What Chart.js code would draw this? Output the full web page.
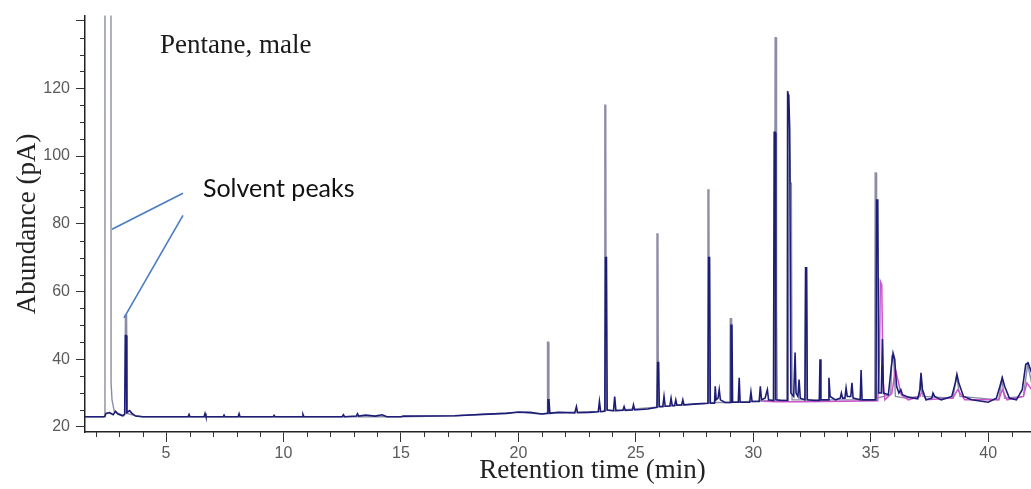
<!DOCTYPE html>
<html>
<head>
<meta charset="utf-8">
<script src="https://cdn.jsdelivr.net/npm/chart.js@4.4.1/dist/chart.umd.min.js"></script>
<style>
  html, body { margin: 0; padding: 0; background: #ffffff; overflow: hidden; }
  #wrap { position: relative; width: 1100px; height: 489px; }
</style>
</head>
<body>
<div id="wrap"><canvas id="c"></canvas></div>
<script>
// ---- data (retention time in min, abundance in pA) ----
const xTicksMajor = [5, 10, 15, 20, 25, 30, 35, 40];
const yTicksMajor = [20, 40, 60, 80, 100, 120];

const navyTrace = [
  [1.55,23],[2.35,23],[2.40,23.2],[2.44,24],[2.6,24.2],[2.75,23.6],[2.85,24.6],[2.95,23.8],[3.15,23.3],
  [3.24,23.8],[3.27,47],[3.30,47],[3.33,24.2],[3.45,24.8],[3.55,24],[3.7,23.2],[4.0,23],
  [5.94,23],[5.98,23.7],[6.02,23],[6.62,23],[6.66,24],[6.7,23],[7.43,23],[7.47,23.5],[7.51,23],
  [8.07,23],[8.11,23.9],[8.15,23],[9.56,23],[9.6,23.4],[9.64,23],[10.79,23],[10.83,23.7],[10.87,23],
  [12.5,23],[12.55,23.6],[12.6,23],[13.1,23.2],[13.15,23.9],[13.2,23.2],[13.5,23.5],[13.9,23.2],
  [14.2,23.6],[14.4,23],[15.0,23],[15.1,23.2],[17.3,23.3],[18.5,23.7],[19.5,24],[20.0,24.4],[20.5,24.3],
  [21.0,23.8],[21.22,24],[21.26,28],[21.3,28],[21.34,24],[21.7,24.3],[22.4,24.1],[22.47,26],[22.52,24.2],
  [23.0,24.3],[23.4,24.5],[23.45,27.5],[23.5,24.5],[23.68,24.6],[23.71,70],[23.75,70],[23.78,25],
  [24.05,24.8],[24.1,29],[24.15,24.8],[24.45,24.9],[24.5,26],[24.55,24.9],[24.85,25],[24.9,26.5],[24.95,25],
  [25.5,25.3],[25.9,25.8],[25.93,39],[25.97,39],[26.0,26],[26.15,26],[26.2,29],[26.25,26.1],[26.45,26.2],
  [26.5,28.5],[26.55,26.3],[26.65,26.3],[26.7,28],[26.75,26.4],[26.95,26.5],[27.0,28],[27.05,26.5],
  [27.6,26.8],[28.07,27],[28.1,70],[28.14,70],[28.17,27],[28.35,27],[28.38,32],[28.42,28],[28.5,28.5],
  [28.55,31],[28.6,28],[28.8,27.2],[29.02,27.2],[29.05,50],[29.09,50],[29.12,27.3],[29.36,27.3],[29.4,34.5],
  [29.44,27.3],[29.85,27.3],[29.9,30.3],[29.95,27.5],[30.25,27.5],[30.3,32],[30.35,28],[30.5,28.5],
  [30.6,31],[30.65,28],[30.86,27.8],[30.89,107],[30.93,107],[30.96,28],[31.2,27.8],[31.44,27.8],
  [31.47,118.5],[31.51,118],[31.55,108],[31.6,30],[31.72,29],[31.78,42],[31.82,30],[31.9,29],[31.95,34],
  [32.0,28.5],[32.2,28],[32.23,67],[32.27,67],[32.3,28],[32.6,27.8],[32.81,27.8],[32.84,40],[32.88,28],
  [33.0,28],[33.19,28],[33.22,34.5],[33.27,29],[33.5,28],[33.7,28.5],[33.75,30],[33.8,28.5],[33.9,28.5],
  [33.95,31.5],[34.0,29],[34.15,29],[34.2,33],[34.25,28.5],[34.55,28],[34.59,36.8],[34.63,28],[35.0,28],
  [35.22,28],[35.25,87],[35.3,87],[35.34,30],[35.45,30],[35.5,46],[35.54,30],[35.75,29.5],[35.88,38],
  [35.95,41.8],[36.02,40],[36.1,32],[36.2,30],[36.28,31],[36.35,29.5],[36.6,28.8],[37.0,28.3],[37.1,31],
  [37.14,36],[37.2,31],[37.35,28],[37.6,28.5],[37.65,30],[37.72,29],[38.0,28],[38.45,29],[38.6,33],
  [38.67,35.5],[38.75,33],[38.95,29],[39.3,28],[40.0,27.3],[40.35,28.5],[40.5,32],[40.6,34.5],[40.7,32],
  [40.9,28.5],[41.2,28],[41.45,31],[41.6,38.5],[41.7,38.9],[41.85,36],[42.0,33],[42.5,29],[44.8,28]
];

const grayTrace = [
  [1.55,23],[2.38,23],[2.40,300],[2.65,300],[2.66,33],[2.70,28],[2.8,24.5],[3.2,23.3],[3.25,24],
  [3.27,53],[3.32,53],[3.35,24],[3.6,23.5],[4.0,23],[15,23],[17.3,23.3],[20,24.3],[21.0,23.8],
  [21.22,24],[21.24,45],[21.28,45],[21.3,24.2],[23.6,24.6],[23.66,25],[23.68,115],[23.72,115],[23.74,25],
  [24.0,24.8],[25.88,25.8],[25.9,77],[25.94,77],[25.96,26],[28.05,27],[28.07,90],[28.11,90],[28.13,27.2],
  [29.0,27.2],[29.02,52],[29.06,52],[29.08,27.3],[30.9,27.8],[30.93,135],[30.97,135],[30.99,56],[31.02,28],
  [31.42,27.8],[31.45,119],[31.49,119],[31.58,92],[31.62,92],[31.65,28],[32.2,28],[32.22,67],[32.26,67],
  [32.29,28],[35.17,28],[35.19,95],[35.23,95],[35.25,28.5],[35.85,29.5],[35.9,41],[35.97,41],[36.05,29],
  [36.5,28.5],[37.05,29],[37.13,35],[37.22,29],[38.5,28.5],[38.65,35],[38.8,29],[40.45,28],[40.58,34],
  [40.7,28.5],[41.5,29],[41.68,38.5],[41.85,33],[42.5,29],[44.8,28]
];

const magentaTrace = [
  [30.4,27.6],[31.0,27.4],[32.0,27.4],[33.0,27.5],[34.0,27.6],[35.3,27.7],[35.37,40],[35.41,63],[35.47,62],
  [35.52,34],[35.6,28],[35.9,30],[36.05,37],[36.15,34],[36.3,29.5],[36.6,28],[37.1,29],[37.2,31],[37.35,28],
  [38.5,28.5],[38.7,31],[39.0,28],[40.45,28],[40.6,31],[40.8,28],[41.5,29],[41.65,33],[41.85,31],[42.5,28.5]
];

const xTitle = 'Retention time (min)';
const yTitle = 'Abundance (pA)';
const sampleLabel = 'Pentane, male';
const calloutLabel = 'Solvent peaks';
// annotation anchors in data units: [time, abundance]
const sampleLabelAt = [4.74, 130.6];
const calloutLabelAt = [6.57, 88.0];
const calloutLines = [
  [[2.70, 78.4], [5.72, 89.0]],
  [[3.21, 52.2], [5.72, 82.5]]
];

const toXY = arr => arr.map(p => ({ x: p[0], y: p[1] }));

const minorTicks = {
  id: 'minorTicks',
  afterDraw(chart) {
    const { ctx, scales: { x, y }, chartArea } = chart;
    ctx.save();
    ctx.strokeStyle = '#333';
    ctx.lineWidth = 1;
    ctx.beginPath();
    for (let v = 25; v < y.max; v += 5) {
      if (v % 20 === 0) continue;
      const py = Math.round(y.getPixelForValue(v)) + 0.5;
      ctx.moveTo(chartArea.left - 5, py);
      ctx.lineTo(chartArea.left, py);
    }
    for (let t = 2; t < x.max; t += 1) {
      if (t % 5 === 0) continue;
      const px = Math.round(x.getPixelForValue(t)) + 0.5;
      ctx.moveTo(px, chartArea.bottom);
      ctx.lineTo(px, chartArea.bottom + 5);
    }
    ctx.stroke();
    ctx.restore();
  }
};

const labels = {
  id: 'labels',
  afterDraw(chart) {
    const { ctx, scales: { x, y } } = chart;
    ctx.save();
    ctx.fillStyle = '#1a1a1a';
    ctx.font = '27px "Liberation Serif", "Times New Roman", serif';
    ctx.textAlign = 'left';
    ctx.textBaseline = 'alphabetic';
    ctx.fillText(sampleLabel, x.getPixelForValue(sampleLabelAt[0]), y.getPixelForValue(sampleLabelAt[1]));
    ctx.font = '25px Lato, "Open Sans", sans-serif';
    ctx.fillStyle = '#111';
    ctx.fillText(calloutLabel, x.getPixelForValue(calloutLabelAt[0]), y.getPixelForValue(calloutLabelAt[1]));
    ctx.strokeStyle = '#4a7cc4';
    ctx.lineWidth = 1.6;
    calloutLines.forEach(([a, b]) => {
      ctx.beginPath();
      ctx.moveTo(x.getPixelForValue(a[0]), y.getPixelForValue(a[1]));
      ctx.lineTo(x.getPixelForValue(b[0]), y.getPixelForValue(b[1]));
      ctx.stroke();
    });
    ctx.restore();
  }
};

new Chart(document.getElementById('c'), {
  type: 'line',
  data: {
    datasets: [
      { label: 'navy', data: toXY(navyTrace), borderColor: '#1d1d78', borderWidth: 1.6, order: 0 },
      { label: 'magenta', data: toXY(magentaTrace), borderColor: '#cc55cc', borderWidth: 1.5, order: 1 },
      { label: 'gray', data: toXY(grayTrace), borderColor: '#8c8ca6', borderWidth: 1.4, order: 2 }
    ]
  },
  options: {
    responsive: true,
    maintainAspectRatio: false,
    animation: false,
    layout: { padding: { top: 15, right: 0, bottom: 0, left: 0 } },
    elements: { point: { radius: 0 }, line: { tension: 0 } },
    plugins: { legend: { display: false }, tooltip: { enabled: false }, title: { display: false } },
    scales: {
      x: {
        type: 'linear',
        min: 1.55,
        max: 44.76,
        afterFit: s => { s.height = 57; },
        afterBuildTicks: s => { s.ticks = xTicksMajor.map(v => ({ value: v })); },
        ticks: { color: '#5a5a5a', font: { family: '"Liberation Sans", Arial, sans-serif', size: 16 }, padding: 2, maxRotation: 0 },
        grid: { display: true, drawOnChartArea: false, drawTicks: true, tickLength: 10, color: '#333', lineWidth: 1 },
        border: { display: true, color: '#222', width: 1.5 },
        title: { display: true, text: xTitle, color: '#222', font: { family: '"Liberation Serif", "Times New Roman", serif', size: 27 }, padding: { top: 0, bottom: 2 } }
      },
      y: {
        type: 'linear',
        min: 18.5,
        max: 141.5,
        afterFit: s => { s.width = 85; },
        afterBuildTicks: s => { s.ticks = yTicksMajor.concat([140]).map(v => ({ value: v })); },
        ticks: { color: '#5a5a5a', font: { family: '"Liberation Sans", Arial, sans-serif', size: 16 }, padding: 6,
                 callback: v => (yTicksMajor.includes(v) ? String(v) : '') },
        grid: { display: true, drawOnChartArea: false, drawTicks: true, tickLength: 9, color: '#333', lineWidth: 1 },
        border: { display: true, color: '#222', width: 1.5 },
        title: { display: true, text: yTitle, color: '#222', font: { family: '"Liberation Serif", "Times New Roman", serif', size: 27 }, padding: { top: 12, bottom: 0 } }
      }
    }
  },
  plugins: [minorTicks, labels]
});
</script>
</body>
</html>
